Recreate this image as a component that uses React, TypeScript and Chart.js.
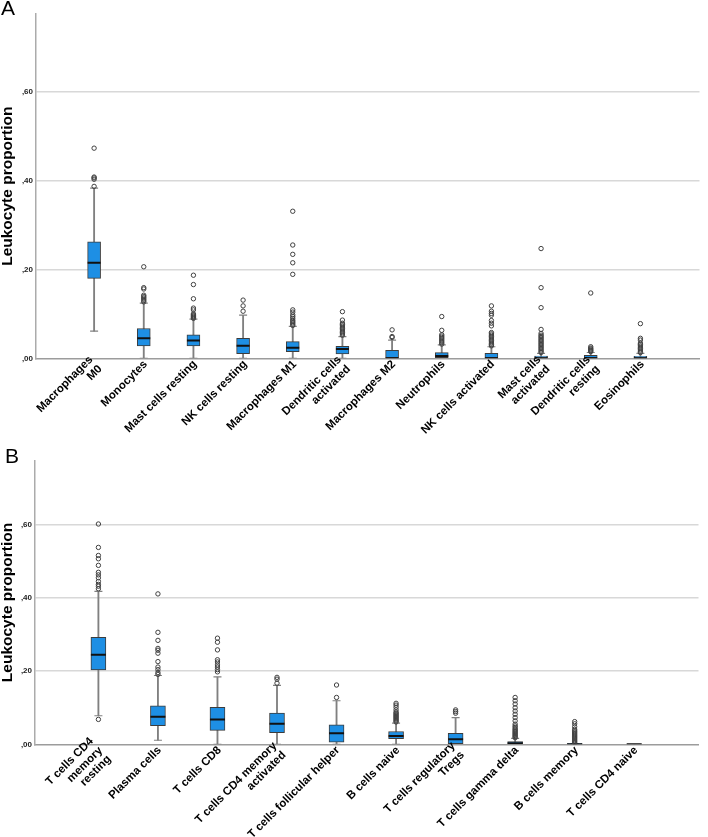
import React, { useEffect, useRef, useState } from 'react';
import { Chart, registerables } from 'chart.js';

Chart.register(...registerables);

// ---------- Panel A data ----------
const A_LABELS: string[][] = [
  ['Macrophages', 'M0'],
  ['Monocytes'],
  ['Mast cells resting'],
  ['NK cells resting'],
  ['Macrophages M1'],
  ['Dendritic cells', 'activated'],
  ['Macrophages M2'],
  ['Neutrophils'],
  ['NK cells activated'],
  ['Mast cells', 'activated'],
  ['Dendritic cells', 'resting'],
  ['Eosinophils'],
];
const A_LOW = [0.061, 0, 0, 0, 0, 0, 0, 0, 0, 0, 0, 0];
const A_Q1 = [0.18, 0.028, 0.028, 0.0105, 0.015, 0.0097, 0, 0, 0, 0, 0, 0];
const A_MEDIAN = [0.215, 0.045, 0.04, 0.028, 0.024, 0.021, 0, 0.005, 0, 0, 0, 0];
const A_Q3 = [0.262, 0.067, 0.053, 0.045, 0.0375, 0.027, 0.018, 0.0126, 0.011, 0.005, 0.0067, 0.0045];
const A_HIGH = [0.383, 0.124, 0.088, 0.097, 0.072, 0.049, 0.041, 0.03, 0.026, 0.011, 0.013, 0.011];
const A_OUTLIERS: number[][] = [
  [0.387, 0.403, 0.406, 0.408, 0.473],
  [0.127, 0.13, 0.133, 0.136, 0.139, 0.142, 0.156, 0.159, 0.206],
  [0.09, 0.092, 0.094, 0.096, 0.098, 0.1, 0.109, 0.113, 0.134, 0.166, 0.187],
  [0.106, 0.118, 0.131],
  [0.074, 0.077, 0.08, 0.083, 0.086, 0.09, 0.094, 0.098, 0.104, 0.109, 0.189, 0.215, 0.234, 0.255, 0.331],
  [0.052, 0.055, 0.058, 0.061, 0.064, 0.067, 0.07, 0.073, 0.076, 0.079, 0.086, 0.105],
  [0.047, 0.049, 0.064],
  [0.032, 0.035, 0.038, 0.041, 0.044, 0.047, 0.05, 0.053, 0.063, 0.094],
  [0.028, 0.031, 0.034, 0.037, 0.04, 0.043, 0.046, 0.049, 0.052, 0.055, 0.058, 0.073, 0.079, 0.085, 0.097, 0.101, 0.106, 0.118],
  [0.013, 0.016, 0.019, 0.022, 0.025, 0.028, 0.031, 0.034, 0.037, 0.04, 0.043, 0.046, 0.049, 0.052, 0.056, 0.065, 0.114, 0.159, 0.247],
  [0.015, 0.017, 0.019, 0.021, 0.023, 0.026, 0.147],
  [0.013, 0.016, 0.019, 0.022, 0.025, 0.028, 0.031, 0.034, 0.041, 0.045, 0.078],
];

// ---------- Panel B data ----------
const B_LABELS: string[][] = [
  ['T cells CD4', 'memory', 'resting'],
  ['Plasma cells'],
  ['T cells CD8'],
  ['T cells CD4 memory', 'activated'],
  ['T cells follicular helper'],
  ['B cells naive'],
  ['T cells regulatory', 'Tregs'],
  ['T cells gamma delta'],
  ['B cells memory'],
  ['T cells CD4 naive'],
];
const B_LOW = [0.078, 0.011, 0, 0, 0, 0, 0, 0, 0, 0];
const B_Q1 = [0.203, 0.051, 0.038, 0.032, 0.0055, 0.0155, 0, 0, 0, 0];
const B_MEDIAN = [0.245, 0.075, 0.068, 0.056, 0.03, 0.023, 0.0137, 0.003, 0, 0];
const B_Q3 = [0.292, 0.105, 0.101, 0.085, 0.053, 0.035, 0.03, 0.0073, 0.001, 0];
const B_HIGH = [0.418, 0.188, 0.184, 0.161, 0.119, 0.058, 0.073, 0.016, 0.002, 0];
const B_OUTLIERS: number[][] = [
  [0.068, 0.425, 0.432, 0.437, 0.445, 0.455, 0.463, 0.47, 0.489, 0.507, 0.516, 0.538, 0.602],
  [0.191, 0.196, 0.204, 0.211, 0.226, 0.249, 0.257, 0.262, 0.284, 0.306, 0.411],
  [0.198, 0.204, 0.211, 0.217, 0.225, 0.231, 0.258, 0.279, 0.29],
  [0.167, 0.178, 0.183],
  [0.128, 0.162],
  [0.061, 0.064, 0.067, 0.07, 0.073, 0.076, 0.079, 0.082, 0.085, 0.088, 0.094, 0.101, 0.107, 0.112],
  [0.085, 0.0895, 0.094],
  [0.018, 0.021, 0.024, 0.027, 0.03, 0.033, 0.036, 0.039, 0.042, 0.046, 0.05, 0.055, 0.064, 0.073, 0.082, 0.091, 0.1, 0.11, 0.119, 0.128],
  [0.004, 0.007, 0.01, 0.013, 0.016, 0.019, 0.022, 0.025, 0.028, 0.031, 0.034, 0.037, 0.041, 0.048, 0.056, 0.062],
  [],
];

const Y_TICKS = [0, 0.2, 0.4, 0.6];
const Y_MAX = 0.775;
const Y_TITLE = 'Leukocyte proportion';

const FONT = '"Liberation Sans", Arial, Helvetica, sans-serif';

type PanelProps = {
  labels: string[][];
  low: number[];
  q1: number[];
  med: number[];
  q3: number[];
  high: number[];
  outliers: number[][];
  xMin: number;
  xMax: number;
  top: number;
  height: number;
  plotTop: number;
  plotBottom: number;
  plotLeft: number;
  boxWidth: number;
};

function fmtTick(v: number): string {
  return v.toFixed(2).replace(/^0\./, ',');
}

type Anchor = { x: number; y: number; lines: string[] };

function BoxPanel(p: PanelProps) {
  const ref = useRef<HTMLCanvasElement | null>(null);
  const [anchors, setAnchors] = useState<Anchor[]>([]);
  useEffect(() => {
    const canvas = ref.current;
    if (!canvas) return;
    const idx = p.labels.map((_, i) => i);
    const caps: { x: number; y: number }[] = [];
    idx.forEach((i) => {
      if (p.high[i] > p.q3[i]) caps.push({ x: i, y: p.high[i] });
      if (p.low[i] < p.q1[i]) caps.push({ x: i, y: p.low[i] });
    });
    const outl: { x: number; y: number }[] = [];
    p.outliers.forEach((arr, i) => arr.forEach((v) => outl.push({ x: i, y: v })));

    const chart = new Chart(canvas, {
      type: 'bar',
      data: {
        datasets: [
          {
            type: 'bar',
            label: 'whisker',
            data: idx.map((i) => ({ x: i, y: [p.low[i], p.high[i]] })) as any,
            backgroundColor: '#808080',
            borderWidth: 0,
            barThickness: 1.2,
            grouped: false,
            order: 4,
          } as any,
          {
            type: 'scatter',
            label: 'caps',
            data: caps,
            pointStyle: 'line',
            pointRadius: 4,
            borderColor: '#808080',
            borderWidth: 1.2,
            order: 3,
          } as any,
          {
            type: 'bar',
            label: 'box',
            data: idx.map((i) => ({ x: i, y: [p.q1[i], p.q3[i]] })) as any,
            backgroundColor: '#1e8fe4',
            borderColor: '#3c3c3c',
            borderWidth: 1,
            borderSkipped: false,
            barThickness: p.boxWidth,
            grouped: false,
            order: 2,
          } as any,
          {
            type: 'scatter',
            label: 'median',
            data: idx.map((i) => ({ x: i, y: p.med[i] })),
            pointStyle: 'line',
            pointRadius: p.boxWidth / 2,
            borderColor: '#111111',
            borderWidth: 2,
            order: 1,
          } as any,
          {
            type: 'scatter',
            label: 'outliers',
            data: outl,
            pointStyle: 'circle',
            pointRadius: 2.2,
            borderColor: '#404040',
            backgroundColor: 'rgba(255,255,255,0)',
            borderWidth: 1,
            order: 0,
          } as any,
        ],
      },
      options: {
        responsive: false,
        animation: false,
        devicePixelRatio: 1,
        events: [],
        layout: { padding: { top: p.plotTop, left: 0, right: 0, bottom: 0 } },
        plugins: { legend: { display: false }, tooltip: { enabled: false } },
        scales: {
          x: {
            type: 'linear',
            min: p.xMin,
            max: p.xMax,
            offset: false,
            afterBuildTicks: (s: any) => {
              s.ticks = idx.map((i) => ({ value: i }));
            },
            afterFit: (s: any) => {
              s.height = p.height - p.plotBottom;
            },
            grid: { display: true, color: 'rgba(0,0,0,0)', drawTicks: false, offset: false },
            border: { display: true, color: '#9c9c9c', width: 1.5 },
            ticks: { display: false, autoSkip: false },
          },
          y: {
            type: 'linear',
            min: 0,
            max: Y_MAX,
            afterBuildTicks: (s: any) => {
              s.ticks = Y_TICKS.map((v) => ({ value: v }));
            },
            afterFit: (s: any) => {
              s.width = p.plotLeft;
            },
            grid: {
              color: (ctx: any) => (ctx.tick && ctx.tick.value === 0 ? 'rgba(0,0,0,0)' : '#d8d8d8'),
              lineWidth: 1.5,
              drawTicks: false,
            },
            border: { display: true, color: '#ababab', width: 1.5 },
            ticks: {
              padding: 3,
              color: '#222',
              font: { size: 8, weight: 'bold', family: FONT },
              callback: (v: any) => fmtTick(Number(v)),
            },
            title: {
              display: true,
              text: Y_TITLE,
              color: '#000',
              padding: 0,
              font: { size: 15.5, weight: 'bold', lineHeight: 1, family: FONT },
            },
          },
        },
      } as any,
    });

    // category label anchors taken from the chart's own x scale
    const xs: any = chart.scales.x;
    const bottom = chart.chartArea.bottom;
    setAnchors(
      xs.ticks.map((t: any) => ({
        x: xs.getPixelForValue(t.value) + 1.5,
        y: p.top + bottom + 4,
        lines: p.labels[Math.round(t.value)] || [],
      }))
    );
    return () => chart.destroy();
  }, []);
  return (
    <>
      <canvas
        ref={ref}
        width={708}
        height={p.height}
        style={{ position: 'absolute', left: 0, top: p.top, width: 708, height: p.height, display: 'block' }}
      />
      {anchors.map((a, i) => (
        <div key={i} style={{ position: 'absolute', left: a.x, top: a.y, width: 0, height: 0 }}>
          <div
            style={{
              position: 'absolute',
              right: 0,
              top: 0,
              whiteSpace: 'nowrap',
              textAlign: 'right',
              fontFamily: FONT,
              fontWeight: 'bold',
              fontSize: '11.5px',
              lineHeight: '12.5px',
              color: '#000',
              transformOrigin: '100% 50%',
              transform: 'translateY(-50%) rotate(-45deg)',
            }}
          >
            {a.lines.map((l, j) => (
              <div key={j}>{l}</div>
            ))}
          </div>
        </div>
      ))}
    </>
  );
}

export default function App() {
  const letter: React.CSSProperties = {
    position: 'absolute',
    fontFamily: FONT,
    fontSize: 21,
    lineHeight: '21px',
    color: '#000',
  };
  return (
    <div style={{ position: 'absolute', left: 0, top: 0, width: 708, height: 837, background: '#fff' }}>
      <BoxPanel
        labels={A_LABELS}
        low={A_LOW}
        q1={A_Q1}
        med={A_MEDIAN}
        q3={A_Q3}
        high={A_HIGH}
        outliers={A_OUTLIERS}
        xMin={-1.17}
        xMax={12.19}
        top={0}
        height={440}
        plotTop={14}
        plotBottom={358.3}
        plotLeft={36}
        boxWidth={13}
      />
      <BoxPanel
        labels={B_LABELS}
        low={B_LOW}
        q1={B_Q1}
        med={B_MEDIAN}
        q3={B_Q3}
        high={B_HIGH}
        outliers={B_OUTLIERS}
        xMin={-1.065}
        xMax={10.08}
        top={440}
        height={397}
        plotTop={20.7}
        plotBottom={304.3}
        plotLeft={35}
        boxWidth={15}
      />
      <div style={{ ...letter, left: 1, top: -3 }}>A</div>
      <div style={{ ...letter, left: 5, top: 445 }}>B</div>
    </div>
  );
}
